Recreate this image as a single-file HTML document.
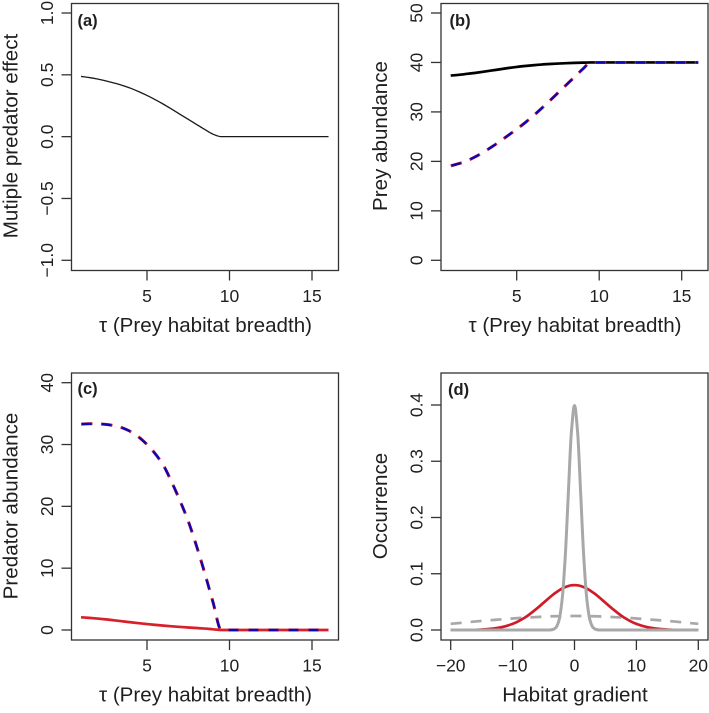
<!DOCTYPE html>
<html>
<head>
<meta charset="utf-8">
<style>
html,body{margin:0;padding:0;background:#fff;}
svg{display:block;font-family:"Liberation Sans",sans-serif;fill:#1f1f1f;}
</style>
</head>
<body>
<svg id="chart" width="709" height="713" viewBox="0 0 709 713" xmlns="http://www.w3.org/2000/svg"></svg>
<script>
const tauValues = [1,1.5,2,2.5,3,3.5,4,4.5,5,5.5,6,6.5,7,7.5,8,8.5,9,9.5,10,12,14,16];
const effectValues = [0.487,0.478,0.466,0.451,0.434,0.415,0.392,0.364,0.333,0.299,0.262,0.222,0.181,0.14,0.099,0.058,0.02,0,0,0,0,0];
const preyBlack = [37.35,37.5,37.7,37.9,38.13,38.38,38.63,38.88,39.1,39.28,39.44,39.58,39.69,39.78,39.85,39.91,39.96,40,40,40,40,40];
const preyDashed = [19.1,19.55,20.15,20.95,21.9,22.95,24.1,25.3,26.5,27.8,29.2,30.7,32.25,33.85,35.45,37.05,38.65,40,40,40,40,40];
const predatorDashed = [33.3,33.35,33.35,33.25,33.05,32.7,32.1,31.2,30,28.5,26.6,23.9,20.9,17.6,13.6,9.2,4.5,0,0,0,0,0];
const predatorRed = [2.05,1.96,1.85,1.72,1.57,1.41,1.25,1.1,0.96,0.83,0.71,0.6,0.5,0.41,0.32,0.23,0.11,0,0,0,0,0];
const gradientValues = [-20,-18,-16,-14,-12,-10,-8,-6,-5,-4,-3.5,-3,-2.5,-2,-1.5,-1,-0.5,0,0.5,1,1.5,2,2.5,3,3.5,4,5,6,8,10,12,14,16,18,20];
const narrowOccurrence = [0,0,0,0,0,0,0,0,0,0.0001,0.0009,0.0044,0.0175,0.054,0.1295,0.242,0.352,0.399,0.352,0.242,0.1295,0.054,0.0175,0.0044,0.0009,0.0001,0,0,0,0,0,0,0,0,0];
const mediumOccurrence = [0,0.0001,0.0003,0.0016,0.0045,0.0108,0.0222,0.039,0.0484,0.058,0.0626,0.0666,0.0704,0.0737,0.0763,0.0782,0.0794,0.0798,0.0794,0.0782,0.0763,0.0737,0.0704,0.0666,0.0626,0.058,0.0484,0.039,0.0222,0.0108,0.0045,0.0016,0.0003,0.0001,0];
const wideOccurrence = [0.011,0.013,0.0152,0.0171,0.0188,0.0205,0.022,0.0231,0.0237,0.0242,0.0244,0.0245,0.0246,0.0247,0.0248,0.0249,0.0249,0.025,0.0249,0.0249,0.0248,0.0247,0.0246,0.0245,0.0244,0.0242,0.0237,0.0231,0.022,0.0205,0.0188,0.0171,0.0152,0.013,0.011];
const tauTicks = [5,10,15];
const tauTickLabels = ['5','10','15'];
const effectTicks = [-1,-0.5,0,0.5,1];
const effectTickLabels = ['\u22121.0','\u22120.5','0.0','0.5','1.0'];
const preyTicks = [0,10,20,30,40,50];
const preyTickLabels = ['0','10','20','30','40','50'];
const predatorTicks = [0,10,20,30,40];
const predatorTickLabels = ['0','10','20','30','40'];
const occurrenceTicks = [0,0.1,0.2,0.3,0.4];
const occurrenceTickLabels = ['0.0','0.1','0.2','0.3','0.4'];
const gradientTicks = [-20,-10,0,10,20];
const gradientTickLabels = ['\u221220','\u221210','0','10','20'];

const NS = 'http://www.w3.org/2000/svg';
const root = document.getElementById('chart');

function make(parent, tag, attrs, text) {
  const el = document.createElementNS(NS, tag);
  for (const k in attrs) el.setAttribute(k, attrs[k]);
  if (text !== undefined) el.textContent = text;
  parent.appendChild(el);
  return el;
}
function scale(d0, d1, r0, r1) {
  return function (v) { return r0 + (v - d0) * (r1 - r0) / (d1 - d0); };
}
/* monotone cubic path through the data points, so peaks and knees stay smooth */
function smoothPath(px, py) {
  const n = px.length;
  const sec = [];
  for (let i = 0; i < n - 1; i++) sec.push((py[i + 1] - py[i]) / (px[i + 1] - px[i]));
  const m = [sec[0]];
  for (let i = 1; i < n - 1; i++) {
    m.push(sec[i - 1] * sec[i] <= 0 ? 0 : 2 * sec[i - 1] * sec[i] / (sec[i - 1] + sec[i]));
  }
  m.push(sec[n - 2]);
  let d = 'M' + px[0].toFixed(2) + ' ' + py[0].toFixed(2);
  for (let i = 0; i < n - 1; i++) {
    const h = (px[i + 1] - px[i]) / 3;
    d += 'C' + (px[i] + h).toFixed(2) + ' ' + (py[i] + m[i] * h).toFixed(2) + ' ' +
         (px[i + 1] - h).toFixed(2) + ' ' + (py[i + 1] - m[i + 1] * h).toFixed(2) + ' ' +
         px[i + 1].toFixed(2) + ' ' + py[i + 1].toFixed(2);
  }
  return d;
}
function drawSeries(group, name, xs, ys, sx, sy, style) {
  const d = smoothPath(xs.map(sx), ys.map(sy));
  const line = make(group, 'path', Object.assign({ d: d, fill: 'none', 'stroke-linejoin': 'round' }, style));
  
  
}
function drawPanel(cfg) {
  const g = make(root, 'g', {});
  
  

  const frame = make(g, 'rect', { x: cfg.left, y: cfg.top, width: cfg.right - cfg.left, height: cfg.bottom - cfg.top, fill: 'none', stroke: '#333', 'stroke-width': 1.3 });
  
  

  cfg.xTicks.forEach(function (t, i) {
    const tick = make(g, 'line', { x1: cfg.sx(t), x2: cfg.sx(t), y1: cfg.bottom, y2: cfg.bottom + 10, stroke: '#333', 'stroke-width': 1.3 });
    
    
    const label = make(g, 'text', { x: cfg.sx(t), y: cfg.bottom + 31.5, 'text-anchor': 'middle', 'font-size': 17.5 }, cfg.xLabels[i]);
    
    
  });
  cfg.yTicks.forEach(function (t, i) {
    const tick = make(g, 'line', { x1: cfg.left - 10, x2: cfg.left, y1: cfg.sy(t), y2: cfg.sy(t), stroke: '#333', 'stroke-width': 1.3 });
    
    
    const lx = cfg.left - 18.3;
    const label = make(g, 'text', { x: lx, y: cfg.sy(t), 'text-anchor': 'middle', 'font-size': 17.5, transform: 'rotate(-90 ' + lx + ' ' + cfg.sy(t) + ')' }, cfg.yLabels[i]);
    
    
  });

  const xTitle = make(g, 'text', { x: cfg.xTitleX, y: cfg.bottom + 61.5, 'text-anchor': 'middle', 'font-size': 20.6 }, cfg.xTitle);
  
  

  const tx = cfg.left - 54;
  const ty = cfg.yTitleY;
  const yTitle = make(g, 'text', { x: tx, y: ty, 'text-anchor': 'middle', 'font-size': 20.6, transform: 'rotate(-90 ' + tx + ' ' + ty + ')' }, cfg.yTitle);
  
  

  const tag = make(g, 'text', { x: cfg.tagX, y: cfg.tagY, 'font-size': 16.5, 'font-weight': 'bold' }, cfg.tag);
  
  
  return g;
}

const xLeftCol = scale(5, 15, 147, 312);
const xRightCol = scale(5, 15, 516.7, 681.7);
const tauTitle = '\u03C4 (Prey habitat breadth)';
const redDash = { stroke: '#d8202a', 'stroke-width': 3, 'stroke-dasharray': '11.5 8.5' };
const blueDash = { stroke: '#0a08b4', 'stroke-width': 2.4, 'stroke-dasharray': '9.5 10.5', 'stroke-dashoffset': -1 };

/* panel a */
const syA = scale(-1, 1, 260.3, 13);
const gA = drawPanel({ name: 'panel-a', left: 71.5, right: 338.5, top: 3.5, bottom: 270.5, sx: xLeftCol, sy: syA,
  xTicks: tauTicks, xLabels: tauTickLabels, yTicks: effectTicks, yLabels: effectTickLabels,
  xTitle: tauTitle, xTitleX: 205.5, yTitle: 'Mutiple predator effect', yTitleY: 136, tag: '(a)', tagX: 77.5, tagY: 26 });
drawSeries(gA, 'multiple-predator-effect-line', tauValues, effectValues, xLeftCol, syA, { stroke: '#1a1a1a', 'stroke-width': 1.3 });

/* panel b */
const syB = scale(0, 50, 260.3, 13);
const gB = drawPanel({ name: 'panel-b', left: 441, right: 708, top: 3.5, bottom: 270.5, sx: xRightCol, sy: syB,
  xTicks: tauTicks, xLabels: tauTickLabels, yTicks: preyTicks, yLabels: preyTickLabels,
  xTitle: tauTitle, xTitleX: 575, yTitle: 'Prey abundance', yTitleY: 136, tag: '(b)', tagX: 449.5, tagY: 26 });
drawSeries(gB, 'prey-solid-black-line', tauValues, preyBlack, xRightCol, syB, { stroke: '#000', 'stroke-width': 2.7 });
drawSeries(gB, 'prey-dashed-red-line', tauValues, preyDashed, xRightCol, syB, redDash);
drawSeries(gB, 'prey-dashed-blue-line', tauValues, preyDashed, xRightCol, syB, blueDash);

/* panel c */
const syC = scale(0, 40, 630, 382.7);
const gC = drawPanel({ name: 'panel-c', left: 71.5, right: 338.5, top: 373, bottom: 640, sx: xLeftCol, sy: syC,
  xTicks: tauTicks, xLabels: tauTickLabels, yTicks: predatorTicks, yLabels: predatorTickLabels,
  xTitle: tauTitle, xTitleX: 205.5, yTitle: 'Predator abundance', yTitleY: 506, tag: '(c)', tagX: 77.5, tagY: 394 });
drawSeries(gC, 'predator-dashed-red-line', tauValues, predatorDashed, xLeftCol, syC, redDash);
drawSeries(gC, 'predator-solid-red-line', tauValues, predatorRed, xLeftCol, syC, { stroke: '#d8202a', 'stroke-width': 2.7 });
drawSeries(gC, 'predator-dashed-blue-line', tauValues, predatorDashed, xLeftCol, syC, blueDash);

/* panel d */
const sxD = scale(-20, 20, 450.7, 698.3);
const syD = scale(0, 0.4, 630, 405);
const gD = drawPanel({ name: 'panel-d', left: 441, right: 708, top: 373, bottom: 640, sx: sxD, sy: syD,
  xTicks: gradientTicks, xLabels: gradientTickLabels, yTicks: occurrenceTicks, yLabels: occurrenceTickLabels,
  xTitle: 'Habitat gradient', xTitleX: 575, yTitle: 'Occurrence', yTitleY: 506, tag: '(d)', tagX: 448, tagY: 395 });
drawSeries(gD, 'wide-occurrence-dashed-grey-line', gradientValues, wideOccurrence, sxD, syD, { stroke: '#a8a8a8', 'stroke-width': 2.7, 'stroke-dasharray': '11 9' });
drawSeries(gD, 'medium-occurrence-red-line', gradientValues, mediumOccurrence, sxD, syD, { stroke: '#d01c28', 'stroke-width': 2.7 });
drawSeries(gD, 'narrow-occurrence-grey-line', gradientValues, narrowOccurrence, sxD, syD, { stroke: '#a8a8a8', 'stroke-width': 3 });
</script>
</body>
</html>
